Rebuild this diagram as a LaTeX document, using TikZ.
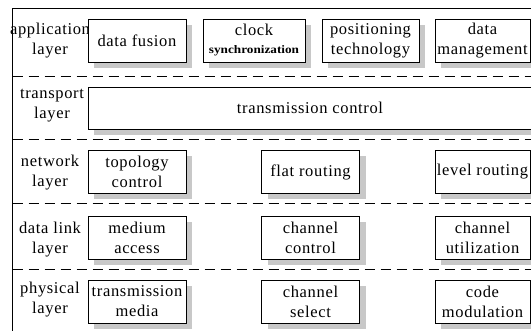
\documentclass[tikz,border=0pt]{standalone}
\usepackage{fontspec}
\setmainfont{Liberation Serif}
\newfontfamily\timesfont[LetterSpace=4]{Liberation Serif}
\newfontfamily\timesbold{Liberation Serif}
\usetikzlibrary{shadows}
\definecolor{shadowgray}{HTML}{C8C8C8}
\tikzset{
  blk/.style={draw, fill=white, line width=0.9pt, inner sep=0pt,
    minimum width=98pt, minimum height=43pt, align=center,
    font=\timesfont\fontsize{16.5}{20}\selectfont,
    drop shadow={shadow xshift=6pt, shadow yshift=-6pt, fill=shadowgray, opacity=1}},
  lbl/.style={align=center, inner sep=0pt, font=\timesfont\fontsize{16.5}{20}\selectfont},
  sep/.style={dash pattern=on 10pt off 6pt, line width=0.9pt},
  frame/.style={line width=1pt}
}
\begin{document}
\begin{tikzpicture}[x=1pt,y=-1pt]
\useasboundingbox (0,0) rectangle (531,331);
\clip (0,0) rectangle (531,331);
\fill[white] (0,0) rectangle (531,331);
% frame
\coordinate (fb) at (12.5,331);
\coordinate (ftl) at (12.5,9);
\coordinate (ftr) at (540,9);
\draw[frame] (fb) -- (ftl) -- (ftr);
% separators
\foreach \yy/\nm in {76.5/s1,139/s2,203/s3,269/s4}{
  \coordinate (\nm a) at (12.5,\yy);
  \coordinate (\nm b) at (540,\yy);
  \draw[sep] (\nm a) -- (\nm b);
}
% labels
\node[lbl] (lapp) at (50,41) {application\\layer};
\node[lbl] (ltra) at (52,106) {transport\\layer};
\node[lbl] (lnet) at (50,173) {network\\layer};
\node[lbl] (llnk) at (50,240) {data link\\layer};
\node[lbl] (lphy) at (50,300) {physical\\layer};
% application row
\node[blk] (fusion) at (137,40.5) {data fusion};
\node[blk, minimum width=102pt] (clock) at (254,40.5) {clock\\[-2pt]\scalebox{1.15}[1]{\timesbold\bfseries\fontsize{11.5}{13}\selectfont synchronization}};
\node[blk, minimum width=97pt] (posit) at (370.5,40.5) {positioning\\technology};
\node[blk, minimum width=95pt] (dman) at (482.5,40.5) {data\\management};
% transport
\node[blk, minimum width=452pt, minimum height=42pt] (tctl) at (314,108) {};
\node[lbl] (tctltext) at (310,108) {transmission control};
% network
\node[blk] (topo) at (137,172) {topology\\control};
\node[blk] (flat) at (310.5,172) {flat routing};
\node[blk, minimum width=95pt] (level) at (482.5,172) {level routing};
% data link
\node[blk] (medium) at (137,237.5) {medium\\access};
\node[blk] (chctl) at (310.5,237.5) {channel\\control};
\node[blk, minimum width=95pt] (chutil) at (482.5,237.5) {channel\\utilization};
% physical
\node[blk] (tmedia) at (137,301.5) {transmission\\media};
\node[blk] (chsel) at (310.5,301.5) {channel\\select};
\node[blk, minimum width=95pt] (cmod) at (482.5,301.5) {code\\modulation};
\end{tikzpicture}
\end{document}
